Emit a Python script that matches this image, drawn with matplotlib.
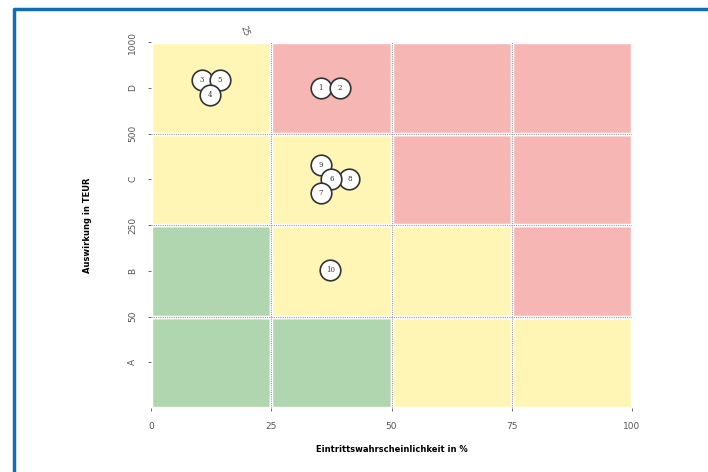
import matplotlib.pyplot as plt
from matplotlib.patches import Rectangle
from matplotlib.lines import Line2D

# Risikomatrix: Zeilen A..D (unten -> oben), Spalten 0-25, 25-50, 50-75, 75-100
x_ticks = [0, 25, 50, 75, 100]
y_bounds = ["0", "50", "250", "500", "1000"]
y_cats = ["A", "B", "C", "D"]
cell_colors = [
    ["g", "g", "y", "y"],   # A
    ["g", "y", "y", "r"],   # B
    ["y", "y", "r", "r"],   # C
    ["y", "r", "r", "r"],   # D
]
palette = {"g": "#b0d6b0", "y": "#fff5b5", "r": "#f6b6b4"}

# Risiken (Position in Zellkoordinaten 0..4)
risk_ids = ["3", "5", "4", "1", "2", "9", "8", "6", "7", "10"]
risk_x = [0.42, 0.57, 0.49, 1.41, 1.57, 1.41, 1.65, 1.50, 1.41, 1.49]
risk_y = [3.58, 3.58, 3.42, 3.50, 3.50, 2.66, 2.50, 2.50, 2.35, 1.51]

fig = plt.figure(figsize=(7.08, 4.72), dpi=100)
ax = fig.add_axes([151 / 708, 1 - 408 / 472, 481 / 708, 366 / 472])

for r, row in enumerate(cell_colors):
    for c, col in enumerate(row):
        ax.add_patch(Rectangle((c, r), 1, 1, facecolor=palette[col],
                               edgecolor="white", linewidth=2.5, zorder=1))

for v in range(1, 4):
    ax.axvline(v, color="#9a9a9a", linestyle=(0, (1, 1)), linewidth=0.8, zorder=2)
    ax.axhline(v, color="#9a9a9a", linestyle=(0, (1, 1)), linewidth=0.8, zorder=2)

ax.scatter(risk_x, risk_y, s=220, facecolor="white", edgecolor="#333333",
           linewidth=1.2, zorder=3)
for i, x, y in zip(risk_ids, risk_x, risk_y):
    ax.text(x, y, i, ha="center", va="center", fontsize=5,
            family="DejaVu Serif", color="#333333", zorder=4)

ax.set_xlim(0, 4)
ax.set_ylim(0, 4)
ax.set_xticks(range(5))
ax.set_xticklabels(x_ticks, fontsize=6.5, color="#333333")
ax.set_yticks([0.5, 1, 1.5, 2, 2.5, 3, 3.5, 4])
ylabels = []
for k in range(4):
    ylabels += [y_cats[k], y_bounds[k + 1]]
ax.set_yticklabels(ylabels, fontsize=6.5, color="#333333", rotation=90, va="center")
ax.tick_params(length=2, width=0.6, colors="#555555", pad=8)
for s in ax.spines.values():
    s.set_visible(False)
ax.axhline(0, color="#cccccc", linewidth=1.5, zorder=0.5)

ax.set_xlabel("Eintrittswahrscheinlichkeit in %", fontsize=6, fontweight="bold",
              labelpad=10)
ax.set_ylabel("Auswirkung in TEUR", fontsize=6, fontweight="bold", labelpad=26)

fig.text(245 / 708, 1 - 31 / 472, "25", fontsize=6, rotation=-70, color="#555555",
         ha="center", va="center")

# blauer Rahmen
fig.add_artist(Line2D([14.5 / 708, 14.5 / 708, 1], [0, 1 - 8.5 / 472, 1 - 8.5 / 472],
                      color="#0a6fb8", linewidth=2.5, transform=fig.transFigure))

fig.savefig("out.png", dpi=100)
